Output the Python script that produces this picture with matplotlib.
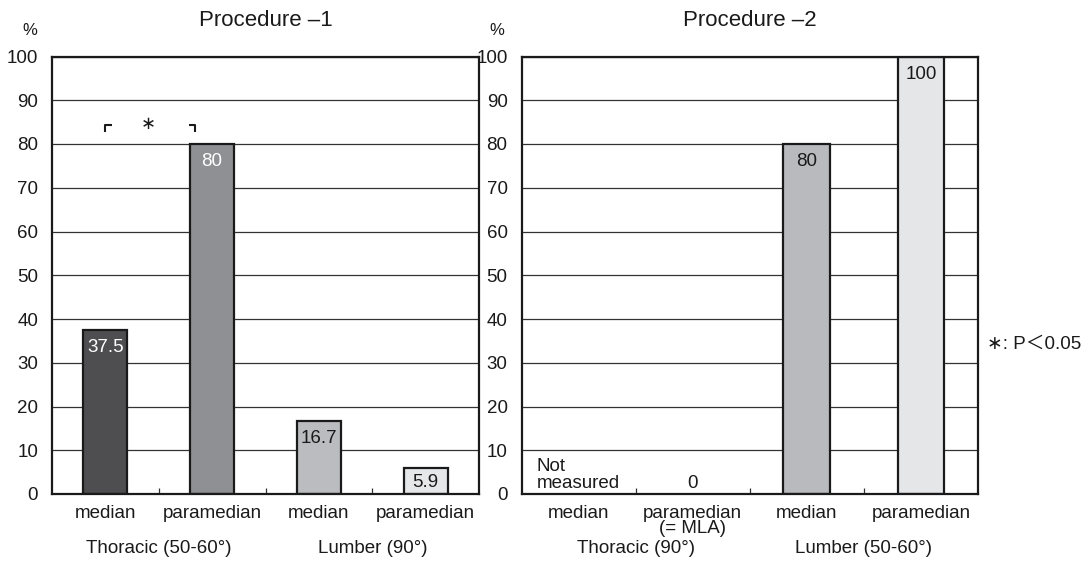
import matplotlib
matplotlib.use("Agg")
import matplotlib.pyplot as plt
from matplotlib.ticker import FixedLocator

plt.rcParams['font.family'] = ['Liberation Sans', 'DejaVu Sans', 'Noto Sans CJK JP']

# ---- data ----
p1_categories = ["median", "paramedian", "median", "paramedian"]
p1_values = [37.5, 80, 16.7, 5.9]
p1_colors = ["#4e4e50", "#8f9094", "#bbbcc0", "#e6e7e9"]
p1_label_colors = ["white", "white", "#1a1a1a", "#1a1a1a"]
p1_groups = ["Thoracic (50-60°)", "Lumber (90°)"]

p2_categories = ["median", "paramedian\n(= MLA)", "median", "paramedian"]
p2_values = [None, 0, 80, 100]
p2_colors = ["#ffffff", "#ffffff", "#b9babe", "#e5e6e8"]
p2_label_colors = ["#1a1a1a", "#1a1a1a", "#1a1a1a", "#1a1a1a"]
p2_groups = ["Thoracic (90°)", "Lumber (50-60°)"]

titles = ["Procedure –1", "Procedure –2"]
yticks = [0, 10, 20, 30, 40, 50, 60, 70, 80, 90, 100]

W, H = 1090, 563
fig = plt.figure(figsize=(W / 100, H / 100), dpi=100)

def fx(px):
    return px / W

def fy(py):
    return 1 - py / H

top_px, bot_px = 56.5, 494
ax1 = fig.add_axes([fx(52), fy(bot_px), fx(479 - 52), (bot_px - top_px) / H])
ax2 = fig.add_axes([fx(521.5), fy(bot_px), fx(978 - 521.5), (bot_px - top_px) / H])

FS = 13.5
TXT = "#1a1a1a"

def setup(ax, cats, vals, colors, lcolors, groups, title):
    n = len(cats)
    x = list(range(n))
    ax.set_xlim(-0.5, n - 0.5)
    ax.set_ylim(0, 100)
    for v in yticks:
        ax.axhline(v, color="#333333", lw=0.9, zorder=1)
    hv = [v if v is not None else 0 for v in vals]
    bars = ax.bar(x, hv, width=0.41, color=colors, edgecolor="#1a1a1a",
                  linewidth=1.6, zorder=3)
    for b, v, v0, lc in zip(bars, vals, hv, lcolors):
        if v is None or v == 0:
            b.set_visible(False)
            continue
        hpx = v0 * (bot_px - top_px) / 100
        off = -min(18, hpx * 0.54) * 72 / 100
        ax.annotate(f"{v:g}", (b.get_x() + b.get_width() / 2, v0),
                    xytext=(0, off), textcoords="offset points",
                    ha="center", va="center", fontsize=FS, color=lc, zorder=4)
    for s in ax.spines.values():
        s.set_linewidth(1.6)
        s.set_color("#1a1a1a")
        s.set_zorder(5)
    ax.set_yticks(yticks)
    ax.tick_params(axis="y", length=0, labelsize=FS, pad=10, labelcolor=TXT)
    ax.set_xticks(x)
    ax.set_xticklabels(cats, fontsize=FS, color=TXT, linespacing=0.8, va="top")
    ax.tick_params(axis="x", length=0, pad=8)
    ax.xaxis.set_minor_locator(FixedLocator([i + 0.5 for i in range(n - 1)]))
    ax.tick_params(axis="x", which="minor", direction="in", length=4, width=0.9,
                   color="#333333")
    for gi, g in enumerate(groups):
        ax.text(2 * gi + 0.5, -0.125, g, transform=ax.get_xaxis_transform(),
                ha="center", va="center", fontsize=FS, color=TXT)
    ax.set_title(title, fontsize=16, color=TXT, pad=22)
    ax.text(-0.053, 1.06, "%", transform=ax.transAxes, ha="center",
            va="center", fontsize=12, color=TXT)
    return bars

bars1 = setup(ax1, p1_categories, p1_values, p1_colors, p1_label_colors,
              p1_groups, titles[0])
bars2 = setup(ax2, p2_categories, p2_values, p2_colors, p2_label_colors,
              p2_groups, titles[1])

# significance bracket between the two thoracic bars of procedure 1
xa = bars1[0].get_x() + bars1[0].get_width() / 2
xb = bars1[1].get_x() + bars1[1].get_width() * 0.12
yt, yb = 84.3, 82.7
ax1.plot([xa, xa, xa + 0.065], [yb, yt, yt], color=TXT, lw=1.5, zorder=4,
         solid_capstyle="butt", clip_on=False)
ax1.plot([xb - 0.065, xb, xb], [yt, yt, yb], color=TXT, lw=1.5, zorder=4,
         solid_capstyle="butt", clip_on=False)
ax1.text((xa + xb) / 2 - 0.02, 84.6, "∗", ha="center", va="center",
         fontsize=13, color=TXT, family=["DejaVu Sans"])

# texts in procedure 2
ax2.text(0, 1.3, "Not\nmeasured", ha="center", va="baseline",
         multialignment="left", fontsize=FS, color=TXT, linespacing=1.0)
ax2.text(1, 1.3, "0", ha="center", va="baseline", fontsize=FS, color=TXT)

fig.text(fx(987), fy(344), "∗: P＜0.05", ha="left", va="center",
         fontsize=FS, color=TXT)

fig.savefig("out.png", dpi=100)
